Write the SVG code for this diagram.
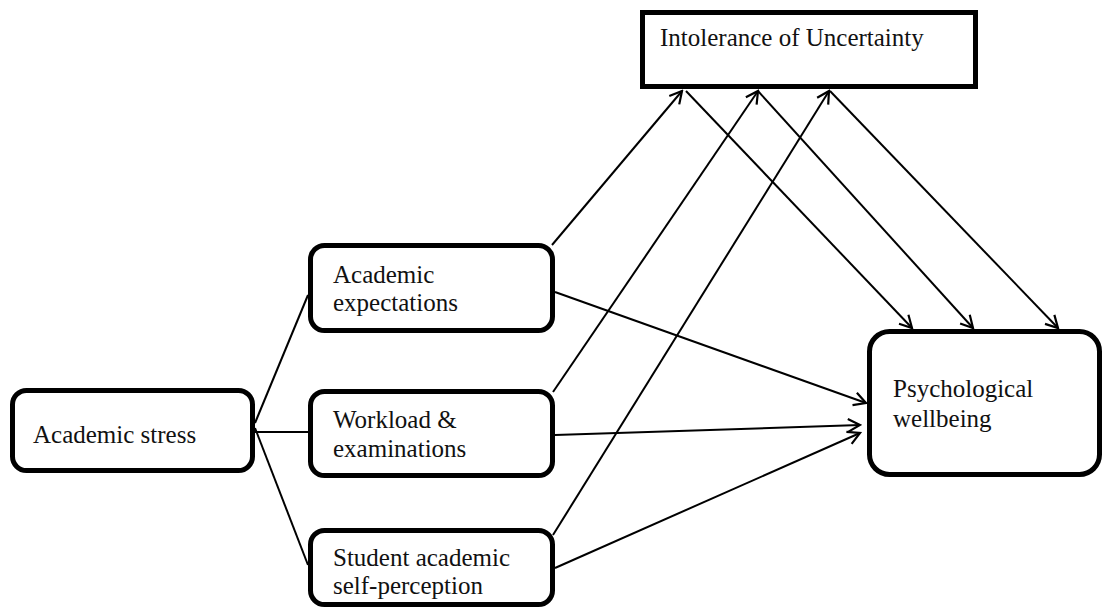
<svg xmlns="http://www.w3.org/2000/svg" width="1104" height="614" viewBox="0 0 1104 614">
<style>
.box{fill:#fff;stroke:#000;stroke-width:5}
.t{font-family:"Liberation Serif","Times New Roman",serif;font-size:25px;fill:#111}
.c{stroke:#000;stroke-width:2;fill:none}
.a{marker-end:url(#arr)}
</style>
<defs>
<marker id="arr" markerUnits="userSpaceOnUse" markerWidth="16" markerHeight="16" viewBox="0 0 16 16" refX="14" refY="8" orient="auto">
<path d="M2,1.5 L14,8 L2,14.5" fill="none" stroke="#000" stroke-width="2.2"/>
</marker>
</defs>
<rect width="1104" height="614" fill="#fff"/>
<g id="connectors">
<line class="c" x1="255" y1="423" x2="308" y2="295"/>
<line class="c" x1="255" y1="432" x2="308" y2="432"/>
<line class="c" x1="255" y1="428" x2="308" y2="565"/>
<line class="c a" x1="552" y1="245" x2="682" y2="91"/>
<line class="c a" x1="553" y1="392" x2="758" y2="91"/>
<line class="c a" x1="553" y1="535" x2="829" y2="91"/>
<line class="c a" x1="555" y1="292" x2="866" y2="403"/>
<line class="c a" x1="555" y1="435" x2="860" y2="425"/>
<line class="c a" x1="555" y1="568" x2="860" y2="433"/>
<line class="c a" x1="686" y1="91" x2="912" y2="328"/>
<line class="c a" x1="758" y1="91" x2="973" y2="328"/>
<line class="c a" x1="830" y1="91" x2="1058" y2="328"/>
</g>
<g id="intolerance">
<rect class="box" x="642.5" y="12.5" width="333" height="74" style="stroke-width:5"/>
<text class="t" x="660" y="46">Intolerance of Uncertainty</text>
</g>
<g id="stress">
<rect class="box" x="12.5" y="390.5" width="240" height="80" rx="14"/>
<text class="t" x="33" y="443">Academic stress</text>
</g>
<g id="expectations">
<rect class="box" x="310.5" y="245.5" width="242" height="85" rx="14"/>
<text class="t" x="333" y="283">Academic</text>
<text class="t" x="333" y="311">expectations</text>
</g>
<g id="workload">
<rect class="box" x="310.5" y="391.5" width="242" height="84" rx="14"/>
<text class="t" x="333" y="428">Workload &amp;</text>
<text class="t" x="333" y="457">examinations</text>
</g>
<g id="student">
<rect class="box" x="310.5" y="530.5" width="242" height="74" rx="14"/>
<text class="t" x="333" y="566">Student academic</text>
<text class="t" x="333" y="594">self-perception</text>
</g>
<g id="wellbeing">
<rect class="box" x="869.5" y="331.5" width="230" height="143" rx="20"/>
<text class="t" x="893" y="397">Psychological</text>
<text class="t" x="893" y="427">wellbeing</text>
</g>
</svg>
